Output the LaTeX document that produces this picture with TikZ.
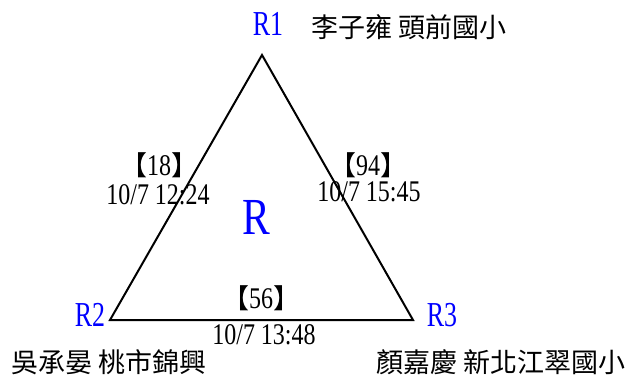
\documentclass[tikz,border=0pt]{standalone}
\usepackage{fontspec}
\setmainfont[FakeStretch=0.8]{Liberation Serif}
\newfontfamily\rfont[FakeStretch=0.74]{Liberation Serif}
\newfontfamily\cjk{Noto Sans CJK TC}
\definecolor{lblblue}{RGB}{0,0,255}
\newcommand{\lbrk}{{\cjk\fontsize{27}{27}\selectfont 【}}
\newcommand{\rbrk}{{\cjk\fontsize{27}{27}\selectfont 】}}
\begin{document}
\begin{tikzpicture}[x=1pt,y=-1pt,
  vlabel/.style={inner sep=0pt,text=lblblue,font=\rfont\fontsize{35}{35}\selectfont},
  cjklabel/.style={inner sep=0pt,anchor=west,font=\cjk\fontsize{27}{27}\selectfont},
  edgelabel/.style={inner sep=0pt,font=\fontsize{30}{30}\selectfont},
  edge/.style={draw=black,line width=2pt,line join=miter}]
\useasboundingbox (0,0) rectangle (626,376);
\coordinate (A) at (262,55);
\coordinate (B) at (110,320);
\coordinate (C) at (413,320);
\draw[edge] (A) -- (B) -- (C) -- cycle;
\node[vlabel] (r1) at (268,24) {R1};
\node[vlabel] (r2) at (90,315) {R2};
\node[vlabel] (r3) at (442,315) {R3};
\node[inner sep=0pt,text=lblblue,font=\fontsize{52}{52}\selectfont] (r) at (256,217) {R};
\node[cjklabel] (n1) at (311,27) {李子雍 頭前國小};
\node[cjklabel] (n2) at (11,362) {吳承晏 桃市錦興};
\node[cjklabel] (n3) at (376,362) {顏嘉慶 新北江翠國小};
\node[edgelabel] (c1) at (159,165) {\lbrk 18\rbrk};
\node[edgelabel] (t1) at (158,195) {10/7 12:24};
\node[edgelabel] (c2) at (368,165) {\lbrk 94\rbrk};
\node[edgelabel] (t2) at (369,192) {10/7 15:45};
\node[edgelabel] (c3) at (261,298) {\lbrk 56\rbrk};
\node[edgelabel] (t3) at (264,335) {10/7 13:48};
\end{tikzpicture}
\end{document}
